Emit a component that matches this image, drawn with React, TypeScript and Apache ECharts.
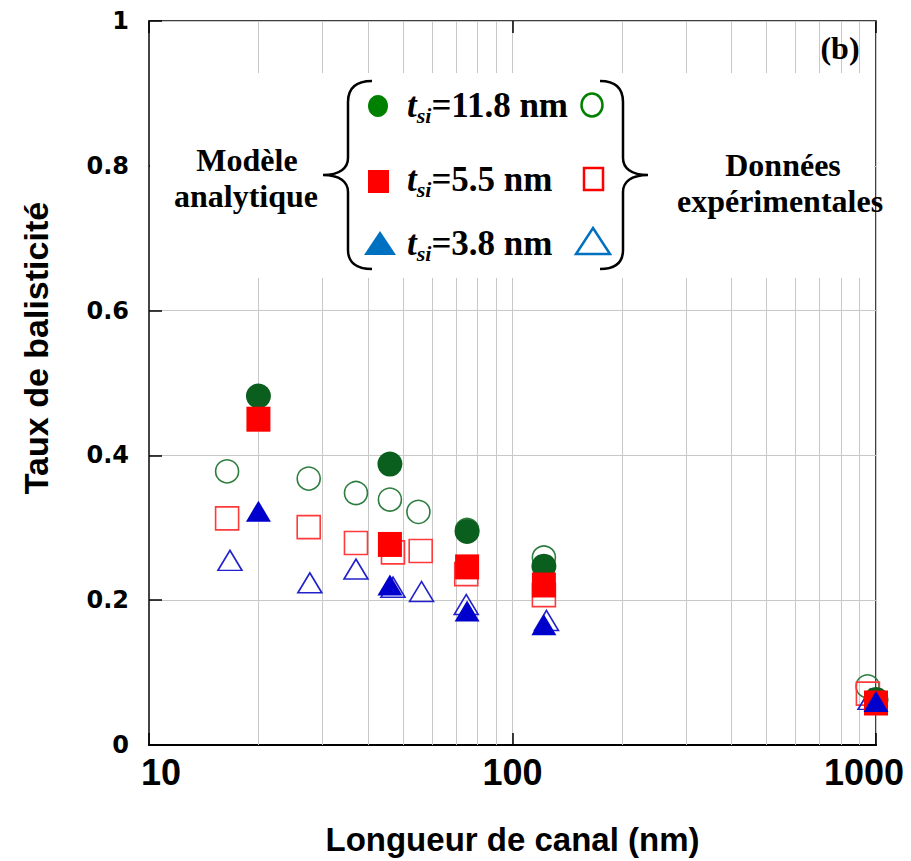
import React, { useEffect, useRef } from 'react';
import * as echarts from 'echarts';

// Channel length (nm) for the analytical model points
const modelLength = [20, 46, 75, 122, 1000];
const model118 = [0.482, 0.388, 0.295, 0.247, 0.063];
const model55 = [0.45, 0.277, 0.246, 0.221, 0.058];
const model38 = [0.323, 0.221, 0.185, 0.166, 0.06];

// Experimental data
const exp118Length = [16.4, 27.5, 37.1, 46.0, 55.1, 75, 122, 948];
const exp118 = [0.378, 0.368, 0.348, 0.339, 0.322, 0.297, 0.259, 0.081];
const exp55Length = [16.4, 27.5, 37.1, 46.9, 55.9, 74.6, 122, 950];
const exp55 = [0.313, 0.301, 0.279, 0.266, 0.268, 0.236, 0.207, 0.071];
const exp38Length = [16.7, 27.7, 37.1, 46.9, 56.2, 74.6, 124, 963];
const exp38 = [0.255, 0.224, 0.243, 0.218, 0.212, 0.194, 0.172, 0.063];

const minorGridX = [20, 30, 40, 50, 60, 70, 80, 90, 200, 300, 400, 500, 600, 700, 800, 900];
const xTickLabels = ['10', '100', '1000'];

const legendRows = ['11.8', '5.5', '3.8'];

const braceL =
  'M 372 81 C 356 81 348 88 348 102 L 348 158 C 348 168 340 175 323 175 C 340 175 348 182 348 192 L 348 250 C 348 262 356 269 372 269';
const braceR =
  'M 600 81 C 616 81 623 88 623 102 L 623 158 C 623 168 631 175 648 175 C 631 175 623 182 623 192 L 623 250 C 623 262 616 269 600 269';

echarts.graphic.registerShape('braceL', echarts.graphic.extendPath(braceL, {}));
echarts.graphic.registerShape('braceR', echarts.graphic.extendPath(braceR, {}));

const zip = (xs: number[], ys: number[]) => xs.map((x, i) => [x, ys[i]]);

const SERIF = '"Liberation Serif", "Times New Roman", serif';
const SANS = '"Liberation Sans", Arial, sans-serif';

export default function App() {
  const ref = useRef<HTMLDivElement>(null);
  useEffect(() => {
    if (!ref.current) return;
    const chart = echarts.init(ref.current, undefined, { renderer: 'svg' });

    const openStyle = (c: string) => ({ color: 'rgba(0,0,0,0)', borderColor: c, borderWidth: 1.6, opacity: 1 });

    const rowY = [105, 179, 243];
    const richText = (v: string) => `{t|t}{s|si}{n|=${v} nm}`;
    const rich = {
      t: { fontFamily: SERIF, fontSize: 35, fontWeight: 'bold', fontStyle: 'italic', fill: '#000', lineHeight: 40 },
      s: { fontFamily: SERIF, fontSize: 22, fontWeight: 'bold', fontStyle: 'italic', fill: '#000', lineHeight: 40, padding: [20, 0, 0, 0] },
      n: { fontFamily: SERIF, fontSize: 35, fontWeight: 'bold', fill: '#000', lineHeight: 40 },
    };

    const xLabelFont = { fontFamily: SANS, fontWeight: 'bold', fontSize: 36, color: '#000' };

    const graphics: any[] = [
      { type: 'rect', z: 10, shape: { x: 150, y: 73, width: 724, height: 205 }, style: { fill: '#fff' } },
      { type: 'braceL', z: 20, x: 0, y: 0, style: { fill: 'none', stroke: '#000', lineWidth: 2.5 } },
      { type: 'braceR', z: 20, x: 0, y: 0, style: { fill: 'none', stroke: '#000', lineWidth: 2.5 } },
      { type: 'text', z: 20, x: 247, y: 160, style: { text: 'Modèle', font: `bold 32px ${SERIF}`, fill: '#000', align: 'center', verticalAlign: 'middle' } },
      { type: 'text', z: 20, x: 246, y: 196, style: { text: 'analytique', font: `bold 32px ${SERIF}`, fill: '#000', align: 'center', verticalAlign: 'middle' } },
      { type: 'text', z: 20, x: 783, y: 165, style: { text: 'Données', font: `bold 32px ${SERIF}`, fill: '#000', align: 'center', verticalAlign: 'middle' } },
      { type: 'text', z: 20, x: 780, y: 201, style: { text: 'expérimentales', font: `bold 32px ${SERIF}`, fill: '#000', align: 'center', verticalAlign: 'middle' } },
      { type: 'text', z: 20, x: 840, y: 48, style: { text: '(b)', font: `bold 32px ${SERIF}`, fill: '#000', align: 'center', verticalAlign: 'middle' } },
      // y-axis title
      { type: 'text', z: 20, x: 36, y: 348, rotation: Math.PI / 2, style: { text: 'Taux de balisticité', font: `bold 34px ${SANS}`, fill: '#000', align: 'center', verticalAlign: 'middle' } },
      // legend markers
      { type: 'ellipse', z: 20, shape: { cx: 378, cy: 106, rx: 10, ry: 11 }, style: { fill: '#008000' } },
      { type: 'ellipse', z: 20, shape: { cx: 592, cy: 105, rx: 10.5, ry: 11.5 }, style: { fill: 'none', stroke: '#008000', lineWidth: 2.5 } },
      { type: 'rect', z: 20, shape: { x: 368, y: 170, width: 21, height: 23 }, style: { fill: '#ff0000' } },
      { type: 'rect', z: 20, shape: { x: 584, y: 168, width: 19, height: 22 }, style: { fill: 'none', stroke: '#ff0000', lineWidth: 2.5 } },
      { type: 'polygon', z: 20, shape: { points: [[380, 231], [396, 255], [364, 255]] }, style: { fill: '#0070c0' } },
      { type: 'polygon', z: 20, shape: { points: [[593, 228], [610, 254], [576, 254]] }, style: { fill: 'none', stroke: '#0070c0', lineWidth: 2.5 } },
    ];
    legendRows.forEach((v, i) => {
      graphics.push({
        type: 'text', z: 20, x: 407, y: rowY[i],
        style: { text: richText(v), rich, align: 'left', verticalAlign: 'middle' },
      });
    });

    chart.setOption({
      animation: false,
      grid: { left: 149, right: 35, top: 21, bottom: 115, show: true, borderColor: '#000', borderWidth: 1.5, backgroundColor: 'transparent' },
      xAxis: [
        {
          type: 'log', logBase: 10, min: 10, max: 1000,
          name: 'Longueur de canal (nm)', nameLocation: 'middle', nameGap: 78,
          nameTextStyle: { fontFamily: SANS, fontWeight: 'bold', fontSize: 33, color: '#000' },
          axisLine: { show: true, lineStyle: { color: '#000', width: 2 } },
          axisTick: { show: true, inside: true, length: 12, lineStyle: { color: '#000', width: 1.5 } },
          splitLine: { show: true, lineStyle: { color: '#c8c8c8', width: 1 } },
          axisLabel: {
            margin: 9,
            formatter: (v: number) => {
              const s = xTickLabels.find((t) => Math.abs(Number(t) - v) < 1e-6 * Number(t)) ?? String(Math.round(v));
              if (s === '10') return `{a|${s}}`;
              if (s === '1000') return `{c|${s}}`;
              return `{b|${s}}`;
            },
            rich: {
              a: { ...xLabelFont, padding: [0, 0, 0, 24] },
              b: { ...xLabelFont },
              c: { ...xLabelFont, padding: [0, 24, 0, 0] },
            },
          },
        },
        {
          type: 'log', logBase: 10, min: 10, max: 1000, position: 'top',
          axisLine: { show: false },
          axisTick: { show: true, inside: true, length: 12, lineStyle: { color: '#000', width: 1.5 } },
          splitLine: { show: false },
          axisLabel: { show: false },
        },
      ],
      yAxis: {
        type: 'value', min: 0, max: 1, interval: 0.2,
        axisLine: { show: true, lineStyle: { color: '#444', width: 2 } },
        axisTick: { show: true, inside: true, length: 13, lineStyle: { color: '#000', width: 1.5 } },
        splitLine: { show: true, lineStyle: { color: '#c8c8c8', width: 1 } },
        axisLabel: { margin: 20, fontFamily: '"DejaVu Sans", sans-serif', fontWeight: 'bold', fontSize: 24, color: '#000' },
      },
      graphic: graphics,
      series: [
        {
          type: 'scatter', name: 'exp 11.8', z: 3, symbol: 'circle', symbolSize: 23,
          itemStyle: openStyle('#2e7d3e'), data: zip(exp118Length, exp118),
          markLine: {
            silent: true, z: 1, symbol: ['none', 'none'], label: { show: false },
            lineStyle: { color: '#c8c8c8', width: 1, type: 'solid' },
            emphasis: { disabled: true },
            data: minorGridX.map((v) => ({ xAxis: v })),
          },
        },
        { type: 'scatter', name: 'exp 5.5', z: 3, symbol: 'rect', symbolSize: 23, itemStyle: openStyle('#ff3a3a'), data: zip(exp55Length, exp55) },
        { type: 'scatter', name: 'exp 3.8', z: 3, symbol: 'triangle', symbolSize: [24, 20], itemStyle: openStyle('#2222cc'), data: zip(exp38Length, exp38) },
        { type: 'scatter', name: 'model 11.8', z: 4, symbol: 'circle', symbolSize: 25, itemStyle: { color: '#0a5e1e', opacity: 1 }, data: zip(modelLength, model118) },
        { type: 'scatter', name: 'model 5.5', z: 4, symbol: 'rect', symbolSize: [24, 25], itemStyle: { color: '#ff0000', opacity: 1 }, data: zip(modelLength, model55) },
        { type: 'scatter', name: 'model 3.8', z: 4, symbol: 'triangle', symbolSize: [25, 21], itemStyle: { color: '#0000cc', opacity: 1 }, data: zip(modelLength, model38) },
      ],
    });
    return () => chart.dispose();
  }, []);
  return <div ref={ref} style={{ width: 911, height: 861, marginLeft: -8, marginTop: -8 }} />;
}
